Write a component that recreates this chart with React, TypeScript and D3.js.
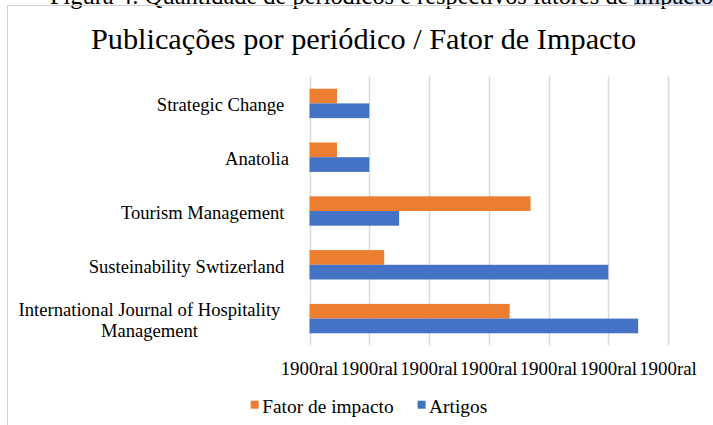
import React, { useEffect, useRef } from 'react';
import * as d3 from 'd3';

// chart data
const categories = [
  'Strategic Change ',
  'Anatolia',
  'Tourism Management ',
  'Susteinability Swtizerland ',
  'International Journal of Hospitality Management',
];
const fatorImpacto = [0.46, 0.46, 3.7, 1.25, 3.35];
const artigos = [1, 1, 1.5, 5, 5.5];
const seriesNames = ['Fator de impacto', 'Artigos'];
const seriesColors = ['#ED7D31', '#4472C4'];
const xTicks = [0, 1, 2, 3, 4, 5, 6];
const tickLabel = '1900ral';
const caption = 'Figura 4: Quantidade de periódicos e respectivos fatores de ';
const captionSel = 'impacto';
const title = 'Publicações por periódico / Fator de Impacto';

const W = 713;
const H = 425;
const FONT = '"Liberation Serif", "Times New Roman", serif';

const App = () => {
  const svgRef = useRef<SVGSVGElement>(null);

  useEffect(() => {
    const svg = d3.select(svgRef.current);
    svg.selectAll('*').remove();

    const plot = { left: 309.5, right: 668, top: 76.5, bottom: 345.5 };

    const x = d3.scaleLinear().domain([0, 6]).range([plot.left, plot.right]);
    const y = d3
      .scaleBand()
      .domain(categories)
      .range([plot.top, plot.bottom])
      .paddingInner(0.4535)
      .paddingOuter(0.4535 / 2);
    const ySub = d3.scaleBand().domain(seriesNames).range([0, y.bandwidth()]);

    // caption cut off at the top
    const cap = svg.append('g');
    const capText = cap
      .append('text')
      .attr('x', 50)
      .attr('y', 3.5)
      .style('font-family', FONT)
      .style('font-size', '24.4px')
      .style('white-space', 'pre')
      .attr('fill', '#000')
      .text(caption);
    const capW = (capText.node() as SVGTextElement).getComputedTextLength();
    cap
      .insert('rect', 'text')
      .attr('x', 50 + capW)
      .attr('y', 0)
      .attr('width', W)
      .attr('height', 5.5)
      .attr('fill', '#d5e3f4');
    cap
      .append('line')
      .attr('x1', 50 + capW + 0.5)
      .attr('x2', 50 + capW + 0.5)
      .attr('y1', 0)
      .attr('y2', 5.5)
      .attr('stroke', '#4a86c8')
      .attr('stroke-width', 1);
    cap
      .append('text')
      .attr('x', 50 + capW)
      .attr('y', 3.5)
      .style('font-family', FONT)
      .style('font-size', '24.4px')
      .attr('fill', '#000')
      .text(captionSel);

    // chart border
    svg
      .append('path')
      .attr('d', `M7.5,${H} V5.5 H${W}`)
      .attr('fill', 'none')
      .attr('stroke', '#d0d0d0')
      .attr('stroke-width', 1);

    // title
    svg
      .append('text')
      .attr('x', 363.5)
      .attr('y', 49)
      .attr('text-anchor', 'middle')
      .style('font-family', FONT)
      .style('font-size', '30.3px')
      .attr('fill', '#000')
      .text(title);

    // gridlines
    svg
      .append('g')
      .selectAll('line')
      .data(xTicks)
      .enter()
      .append('line')
      .attr('x1', (d) => Math.round(x(d)) + 0.5)
      .attr('x2', (d) => Math.round(x(d)) + 0.5)
      .attr('y1', plot.top)
      .attr('y2', plot.bottom)
      .attr('stroke', '#d9d9d9')
      .attr('stroke-width', 1.5);

    // bars
    const rows = categories.map((c, i) => ({ c, values: [fatorImpacto[i], artigos[i]] }));
    const groups = svg
      .append('g')
      .selectAll('g')
      .data(rows)
      .enter()
      .append('g')
      .attr('transform', (d) => `translate(0,${y(d.c)})`);
    groups
      .selectAll('rect')
      .data((d) => d.values.map((v, k) => ({ v, s: seriesNames[k], k })))
      .enter()
      .append('rect')
      .attr('x', x(0))
      .attr('y', (d) => ySub(d.s) as number)
      .attr('width', (d) => x(d.v) - x(0))
      .attr('height', ySub.bandwidth())
      .attr('fill', (d) => seriesColors[d.k]);

    // x tick labels
    svg
      .append('g')
      .selectAll('text')
      .data(xTicks)
      .enter()
      .append('text')
      .attr('x', (d) => x(d))
      .attr('y', 375)
      .attr('text-anchor', 'middle')
      .style('font-family', FONT)
      .style('font-size', '18.9px')
      .attr('fill', '#000')
      .text(tickLabel);

    // category labels, wrapped like Excel
    const labelRight = 289;
    const labelLeft = 10;
    const maxW = 270;
    const labels = svg.append('g');
    categories.forEach((c) => {
      const cy = (y(c) as number) + y.bandwidth() / 2;
      const t = labels
        .append('text')
        .style('font-family', FONT)
        .style('font-size', '18.6px')
        .style('white-space', 'pre')
        .attr('fill', '#000');
      t.text(c);
      const full = (t.node() as SVGTextElement).getComputedTextLength();
      if (full <= maxW) {
        t.attr('x', labelRight).attr('y', cy + 8).attr('text-anchor', 'end');
        return;
      }
      t.text(null);
      const words = c.trim().split(/\s+/);
      const lines: string[] = [];
      let cur = '';
      const probe = labels
        .append('text')
        .style('font-family', FONT)
        .style('font-size', '18.6px');
      words.forEach((w) => {
        const next = cur ? cur + ' ' + w : w;
        probe.text(next);
        if ((probe.node() as SVGTextElement).getComputedTextLength() > maxW && cur) {
          lines.push(cur);
          cur = w;
        } else {
          cur = next;
        }
      });
      lines.push(cur);
      probe.remove();
      const lh = 21.7;
      const y0 = cy + 8 - ((lines.length - 1) * lh) / 2;
      t.attr('text-anchor', 'middle');
      lines.forEach((ln, i) => {
        t.append('tspan')
          .attr('x', (labelLeft + labelRight) / 2)
          .attr('y', y0 + i * lh)
          .text(ln);
      });
    });

    // legend
    const legend = svg.append('g').attr('transform', 'translate(250.7,0)');
    let lx = 0;
    seriesNames.forEach((s, i) => {
      const g = legend.append('g');
      g.append('rect')
        .attr('x', lx)
        .attr('y', 400.7)
        .attr('width', 8)
        .attr('height', 8)
        .attr('fill', seriesColors[i]);
      const tx = g
        .append('text')
        .attr('x', lx + 11.5)
        .attr('y', 412.7)
        .style('font-family', FONT)
        .style('font-size', '19.4px')
        .attr('fill', '#000')
        .text(s);
      const tw = (tx.node() as SVGTextElement).getComputedTextLength();
      lx += 11.5 + tw + 24;
    });
  }, []);

  return (
    <svg
      ref={svgRef}
      width={W}
      height={H}
      style={{ position: 'absolute', left: 0, top: 0, background: '#fff' }}
    />
  );
};

export default App;
